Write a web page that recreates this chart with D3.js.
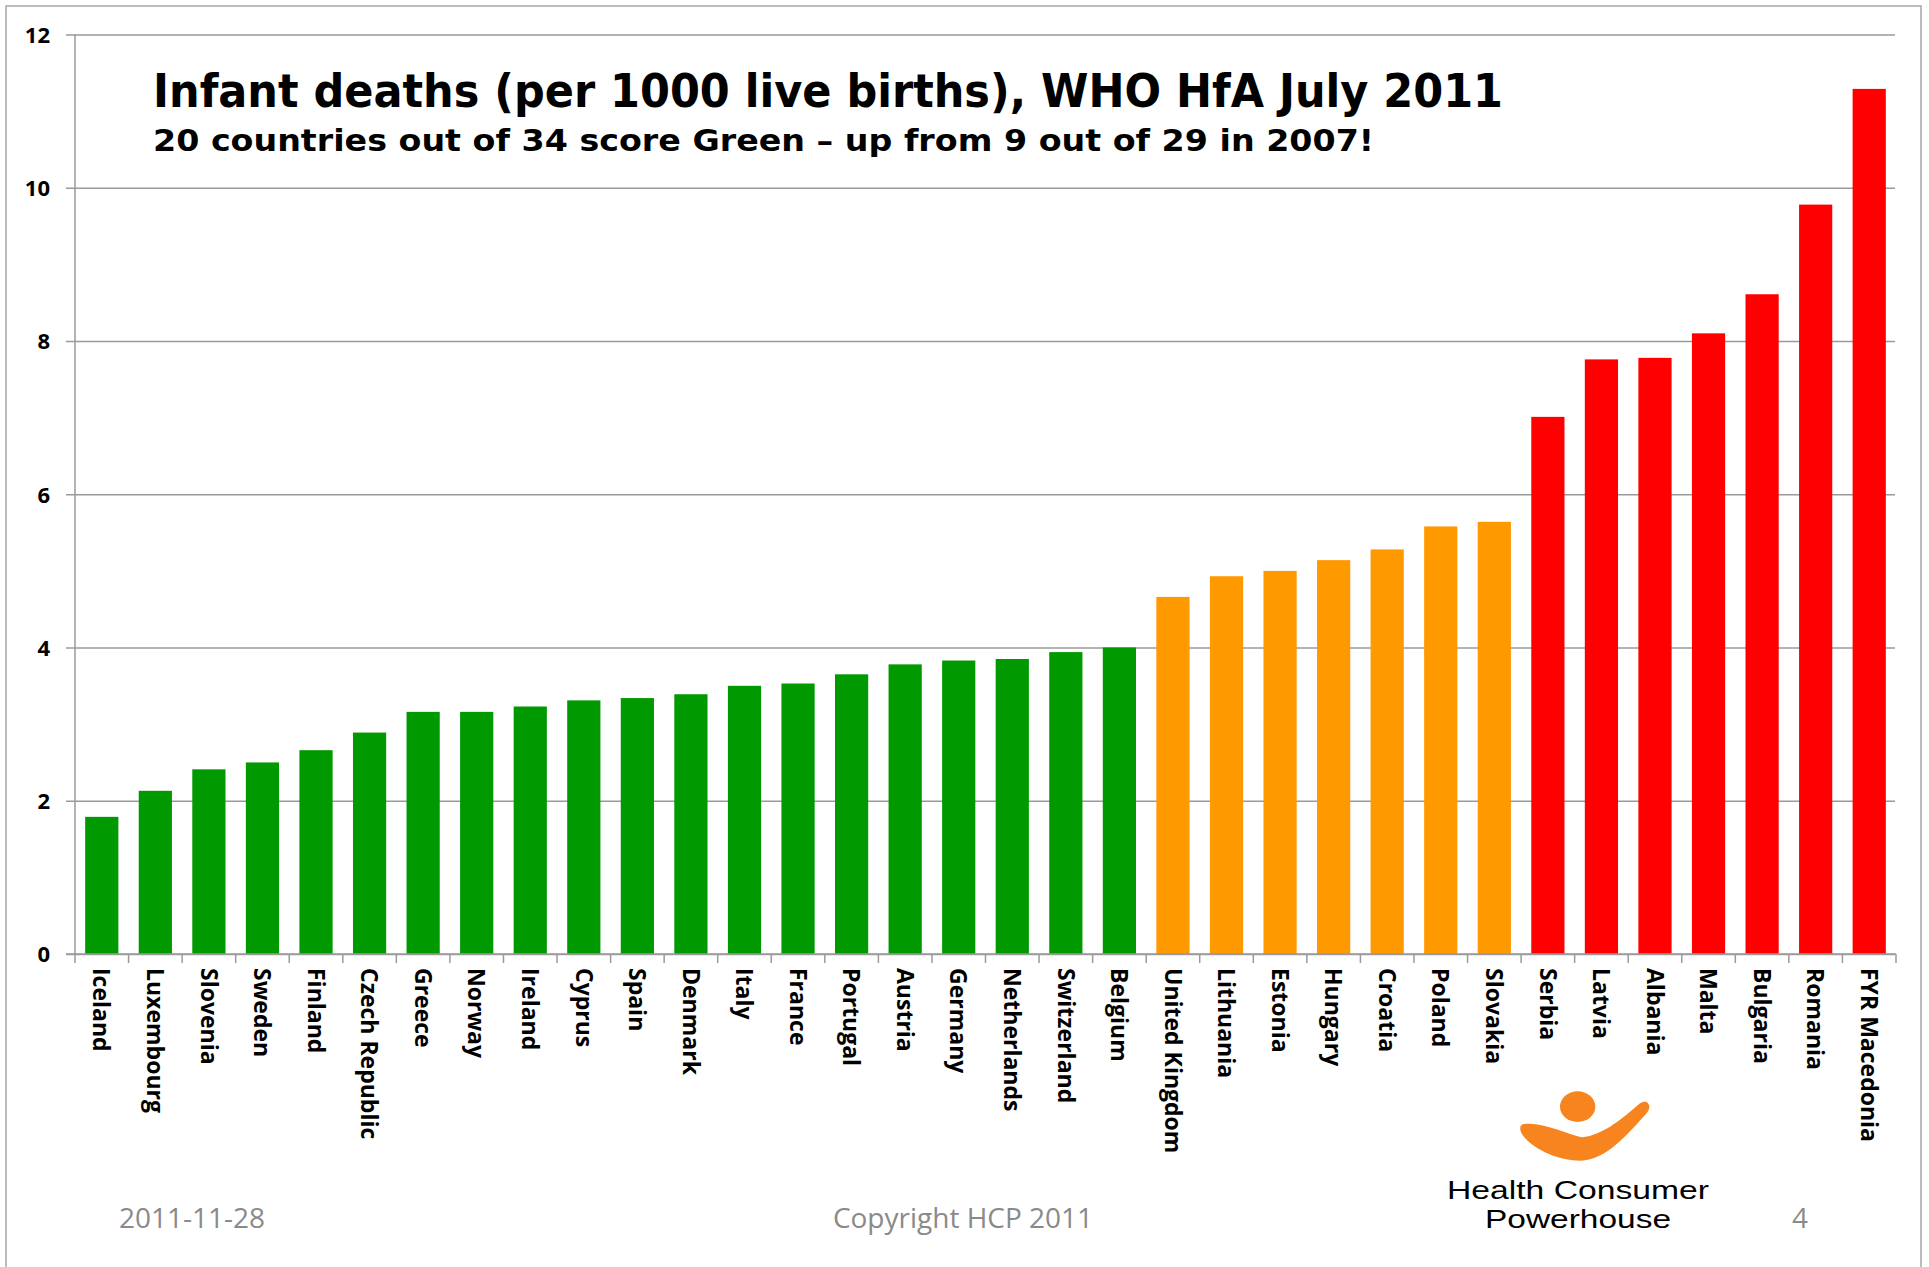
<!DOCTYPE html>
<html>
<head>
<meta charset="utf-8">
<script src="https://cdn.jsdelivr.net/npm/d3@7/dist/d3.min.js"></script>
<style>
  html, body { margin: 0; padding: 0; background: #fff; }
  svg { display: block; }
</style>
</head>
<body>
<div id="chartid"></div>
<script>
/***** data *****/
var countries = ["Iceland", "Luxembourg", "Slovenia", "Sweden", "Finland", "Czech Republic",
  "Greece", "Norway", "Ireland", "Cyprus", "Spain", "Denmark", "Italy", "France", "Portugal",
  "Austria", "Germany", "Netherlands", "Switzerland", "Belgium", "United Kingdom", "Lithuania",
  "Estonia", "Hungary", "Croatia", "Poland", "Slovakia", "Serbia", "Latvia", "Albania", "Malta",
  "Bulgaria", "Romania", "FYR Macedonia"];

var values = [1.79, 2.13, 2.41, 2.50, 2.66, 2.89,
  3.16, 3.16, 3.23, 3.31, 3.34, 3.39, 3.50, 3.53, 3.65,
  3.78, 3.83, 3.85, 3.94, 4.00, 4.66, 4.93,
  5.00, 5.14, 5.28, 5.58, 5.64, 7.01, 7.76, 7.78, 8.10,
  8.61, 9.78, 11.29];

var scores = ["green", "green", "green", "green", "green", "green",
  "green", "green", "green", "green", "green", "green", "green", "green", "green",
  "green", "green", "green", "green", "green", "orange", "orange",
  "orange", "orange", "orange", "orange", "orange", "red", "red", "red", "red",
  "red", "red", "red"];

var yTicks = [0, 2, 4, 6, 8, 10, 12];

var titleText = "Infant deaths (per 1000 live births), WHO HfA July 2011";
var subtitleText = "20 countries out of 34 score Green \u2013 up from 9 out of 29 in 2007!";

/***** chart parameters *****/
var width = 1929;
var height = 1267;
var plot = {left: 75, right: 1896, top: 34.5, bottom: 954};
var gridColor = "#9a9a9a";

var data = countries.map(function(c, i) {
  return {name: c, value: values[i], score: scores[i]};
});

var svg = d3.select("div#chartid")
  .append("svg")
  .attr("width", width)
  .attr("height", height)
;

//slide frame
svg.append("rect")
  .attr("x", 6)
  .attr("y", 6)
  .attr("width", 1915)
  .attr("height", 1300)
  .attr("fill", "none")
  .attr("stroke", "#a6a6a6")
  .attr("stroke-width", 1.5)
;

//scales
var x = d3.scaleBand()
  .domain(countries)
  .range([plot.left, plot.right])
  .paddingInner(0.38)
  .paddingOuter(0.19)
;
var y = d3.scaleLinear()
  .domain([0, 12])
  .range([plot.bottom, plot.top])
;
var color = d3.scaleOrdinal()
  .domain(["green", "orange", "red"])
  .range(["#009900", "#ff9900", "#ff0000"])
;

//gridlines + y axis (ticks stick out 9px left of the axis)
var yAxis = d3.axisLeft(y)
  .tickValues(yTicks)
  .tickSizeInner(-(plot.right - plot.left - 1))
  .tickSizeOuter(0)
  .tickPadding(0)
  .tickFormat(d3.format("d"))
;
var yg = svg.append("g")
  .attr("class", "y axis")
  .attr("transform", "translate(" + plot.left + ",0)")
  .call(yAxis)
;
yg.select(".domain").remove();
yg.selectAll(".tick line")
  .attr("x1", -9)
  .attr("stroke", gridColor)
  .attr("stroke-width", 1.5)
;
yg.selectAll(".tick text")
  .attr("x", -25)
  .attr("dy", "0.36em")
  .attr("fill", "#000")
  .style("font-family", "'Open Sans', sans-serif")
  .style("font-weight", "bold")
  .style("font-size", "22px")
;

//vertical axis line
svg.append("line")
  .attr("x1", plot.left)
  .attr("x2", plot.left)
  .attr("y1", y(12))
  .attr("y2", y(0))
  .attr("stroke", gridColor)
  .attr("stroke-width", 1.5)
;

//bars
svg.append("g")
  .attr("class", "bars")
  .selectAll("rect")
  .data(data)
  .enter()
  .append("rect")
  .attr("x", function(d) { return x(d.name); })
  .attr("width", x.bandwidth())
  .attr("y", function(d) { return y(d.value); })
  .attr("height", function(d) { return y(0) - y(d.value); })
  .attr("fill", function(d) { return color(d.score); })
;

//x axis with ticks on the category boundaries
var xAxis = d3.axisBottom(x)
  .tickSize(0)
  .tickPadding(0)
;
var xg = svg.append("g")
  .attr("class", "x axis")
  .attr("transform", "translate(0," + plot.bottom + ")")
  .call(xAxis)
;
xg.select(".domain")
  .attr("d", "M" + (plot.left - 9) + ",0H" + plot.right)
  .attr("stroke", gridColor)
  .attr("stroke-width", 1.5)
;
xg.selectAll(".tick text")
  .attr("transform", "rotate(90)")
  .attr("x", 14)
  .attr("y", 0)
  .attr("dy", "0.36em")
  .attr("text-anchor", "start")
  .attr("fill", "#000")
  .style("font-family", "'Open Sans', sans-serif")
  .style("font-weight", "bold")
  .style("font-size", "23px")
;

var halfGap = x.step() * x.paddingInner() / 2;
var boundaries = countries.map(function(c) { return x(c) - halfGap; })
  .concat([x(countries[countries.length - 1]) + x.bandwidth() + halfGap]);

xg.selectAll("line.boundary")
  .data(boundaries)
  .enter()
  .append("line")
  .attr("class", "boundary")
  .attr("x1", function(d) { return d; })
  .attr("x2", function(d) { return d; })
  .attr("y1", 0)
  .attr("y2", 9)
  .attr("stroke", gridColor)
  .attr("stroke-width", 1.5)
;

//titles
svg.append("text")
  .attr("x", 153)
  .attr("y", 107)
  .attr("textLength", 1350)
  .attr("lengthAdjust", "spacingAndGlyphs")
  .style("font-family", "'DejaVu Sans', sans-serif")
  .style("font-weight", "bold")
  .style("font-size", "46px")
  .text(titleText)
;
svg.append("text")
  .attr("x", 153)
  .attr("y", 151)
  .attr("textLength", 1221)
  .attr("lengthAdjust", "spacingAndGlyphs")
  .style("font-family", "'DejaVu Sans', sans-serif")
  .style("font-weight", "bold")
  .style("font-size", "30px")
  .text(subtitleText)
;

//footer
var footer = svg.append("g")
  .style("font-family", "'Open Sans', sans-serif")
  .style("font-size", "28px")
  .attr("fill", "#8a8a8a")
;
footer.append("text").attr("x", 119).attr("y", 1228).text("2011-11-28");
footer.append("text").attr("x", 963).attr("y", 1228).attr("text-anchor", "middle").text("Copyright HCP 2011");
footer.append("text").attr("x", 1800).attr("y", 1228).attr("text-anchor", "middle").text("4");

//Health Consumer Powerhouse logo
var logo = svg.append("g")
  .attr("class", "logo")
;
var mark = logo.append("g")
  .attr("transform", "translate(1440,1080) scale(0.3333)")
  .attr("fill", "#f7841e")
;
mark.append("ellipse")
  .attr("cx", 413)
  .attr("cy", 80)
  .attr("rx", 53)
  .attr("ry", 46)
;
mark.append("path")
  .attr("d", "M248,133 C300,122 375,160 425,172 C490,168 560,105 600,70 " +
    "C622,55 640,78 618,102 C565,160 500,240 422,242 " +
    "C340,242 272,198 250,168 C238,152 238,137 248,133 Z")
;
//tight line spacing, so use a font with compact line metrics
var logoText = logo.append("g")
  .attr("text-anchor", "middle")
  .attr("fill", "#000")
  .style("font-family", "'Liberation Sans', sans-serif")
  .style("font-size", "25px")
;
logoText.append("text")
  .attr("x", 1578)
  .attr("y", 1199)
  .attr("textLength", 262)
  .attr("lengthAdjust", "spacingAndGlyphs")
  .text("Health Consumer")
;
logoText.append("text")
  .attr("x", 1578)
  .attr("y", 1228)
  .attr("textLength", 186)
  .attr("lengthAdjust", "spacingAndGlyphs")
  .text("Powerhouse")
;
</script>
</body>
</html>
